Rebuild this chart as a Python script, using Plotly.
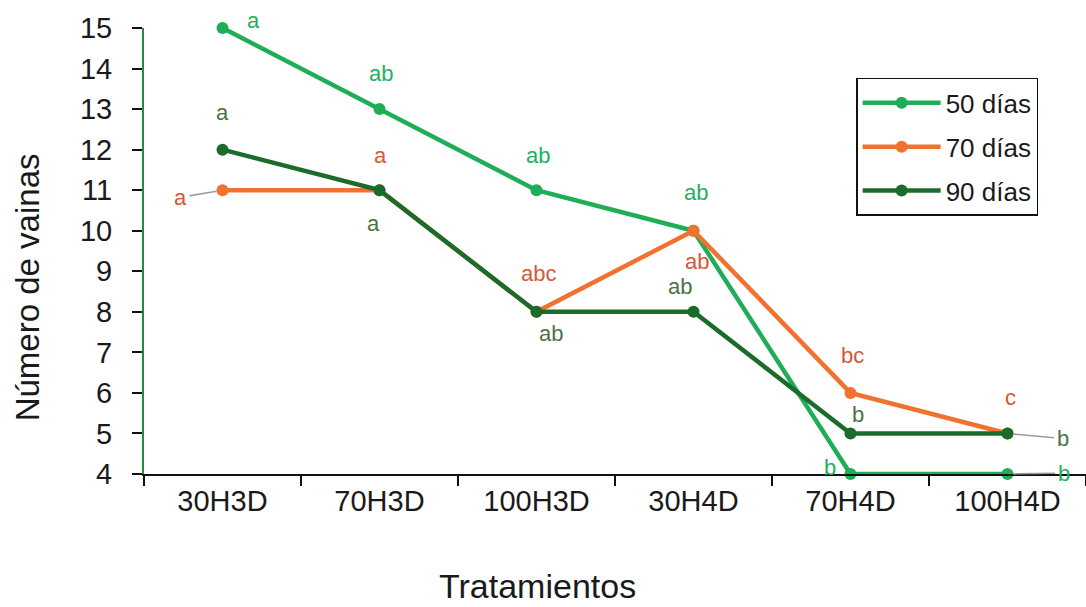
import plotly.graph_objects as go

# Treatments on the x axis
tratamientos = ["30H3D", "70H3D", "100H3D", "30H4D", "70H4D", "100H4D"]

# Number of pods per treatment at each sampling date
vainas_50 = [15, 13, 11, 10, 4, 4]
vainas_70 = [11, 11, 8, 10, 6, 5]
vainas_90 = [12, 11, 8, 8, 5, 5]

# Significance letters per treatment
letras_50 = ["a", "ab", "ab", "ab", "b", "b"]
letras_70 = ["a", "a", "abc", "ab", "bc", "c"]
letras_90 = ["a", "a", "ab", "ab", "b", "b"]

series = [
    ("50 días", vainas_50, letras_50, "#1fae57", "#22b05c"),
    ("70 días", vainas_70, letras_70, "#f2712f", "#d4583a"),
    ("90 días", vainas_90, letras_90, "#1b6b2b", "#4b733f"),
]

# Label placement (pixel offsets from each point); leader=True draws a grey connector
offsets = {
    "50 días": [(31, 8, False), (1, 36, False), (1, 35, False), (2, 38, False),
                (-21, 7, False), (56, 1, True)],
    "70 días": [(-42, -7, True), (1, 35, False), (2, 38, False), (3, -31, False),
                (2, 37, False), (3, 36, False)],
    "90 días": [(0, 37, False), (-6, -33, False), (14, -22, False), (-14, 25, False),
                (7, 19, False), (55, -5, True)],
}

fig = go.Figure()
for i, (nombre, valores, letras, color, color_txt) in enumerate(series):
    fig.add_trace(go.Scatter(
        x=tratamientos, y=valores, mode="lines+markers", name=nombre,
        line=dict(color=color, width=4.5),
        marker=dict(color=color, size=12),
        cliponaxis=False, legendgroup=f"g{i}",
    ))

annotations = []
for nombre, valores, letras, color, color_txt in series:
    for cat, val, letra, (dx, dy, leader) in zip(tratamientos, valores, letras, offsets[nombre]):
        if leader:
            annotations.append(dict(
                x=cat, y=val, xref="x", yref="y", text=letra,
                showarrow=True, arrowhead=0, arrowwidth=1.5, arrowcolor="#9a9a9a",
                ax=dx, ay=-dy, standoff=6, borderpad=2,
                font=dict(family="Liberation Sans, Arial", size=22, color=color_txt),
            ))
        else:
            annotations.append(dict(
                x=cat, y=val, xref="x", yref="y", text=letra, showarrow=False,
                xshift=dx, yshift=dy,
                font=dict(family="Liberation Sans, Arial", size=22, color=color_txt),
            ))

# Axis titles
annotations.append(dict(
    x=0.418, y=-0.25, xref="paper", yref="paper", text="Tratamientos",
    showarrow=False, xanchor="center", yanchor="middle",
    font=dict(family="Liberation Sans, Arial", size=34, color="#1a1a1a"),
))
annotations.append(dict(
    x=-0.124, y=0.419, xref="paper", yref="paper", text="Número de vainas",
    showarrow=False, xanchor="center", yanchor="middle", textangle=-90,
    font=dict(family="Liberation Sans, Arial", size=33, color="#1a1a1a"),
))

fig.update_layout(
    width=1086, height=607,
    margin=dict(l=144, r=0, t=28, b=133),
    paper_bgcolor="white", plot_bgcolor="white",
    font=dict(family="Liberation Sans, Arial", color="#1a1a1a"),
    annotations=annotations,
    legend=dict(
        x=0.756, y=0.888, xanchor="left", yanchor="top",
        bgcolor="white", bordercolor="#111111", borderwidth=1.5,
        font=dict(size=26, color="#1a1a1a"),
        itemwidth=78, tracegroupgap=7,
    ),
    xaxis=dict(
        type="category", range=[-0.5, 5.5],
        showline=True, linecolor="#111111", linewidth=2,
        ticks="outside", tickson="boundaries", ticklen=10, tickwidth=2, tickcolor="#111111",
        showgrid=False, zeroline=False,
        tickfont=dict(size=29, color="#1a1a1a"),
    ),
    yaxis=dict(
        range=[4, 15], dtick=1, tick0=4,
        showline=True, linecolor="#2a8a3c", linewidth=2,
        ticks="outside", ticklen=10, tickwidth=2, tickcolor="#111111",
        ticklabelstandoff=14,
        showgrid=False, zeroline=False,
        tickfont=dict(size=29, color="#1a1a1a"),
    ),
)

fig.write_html("out.html")
